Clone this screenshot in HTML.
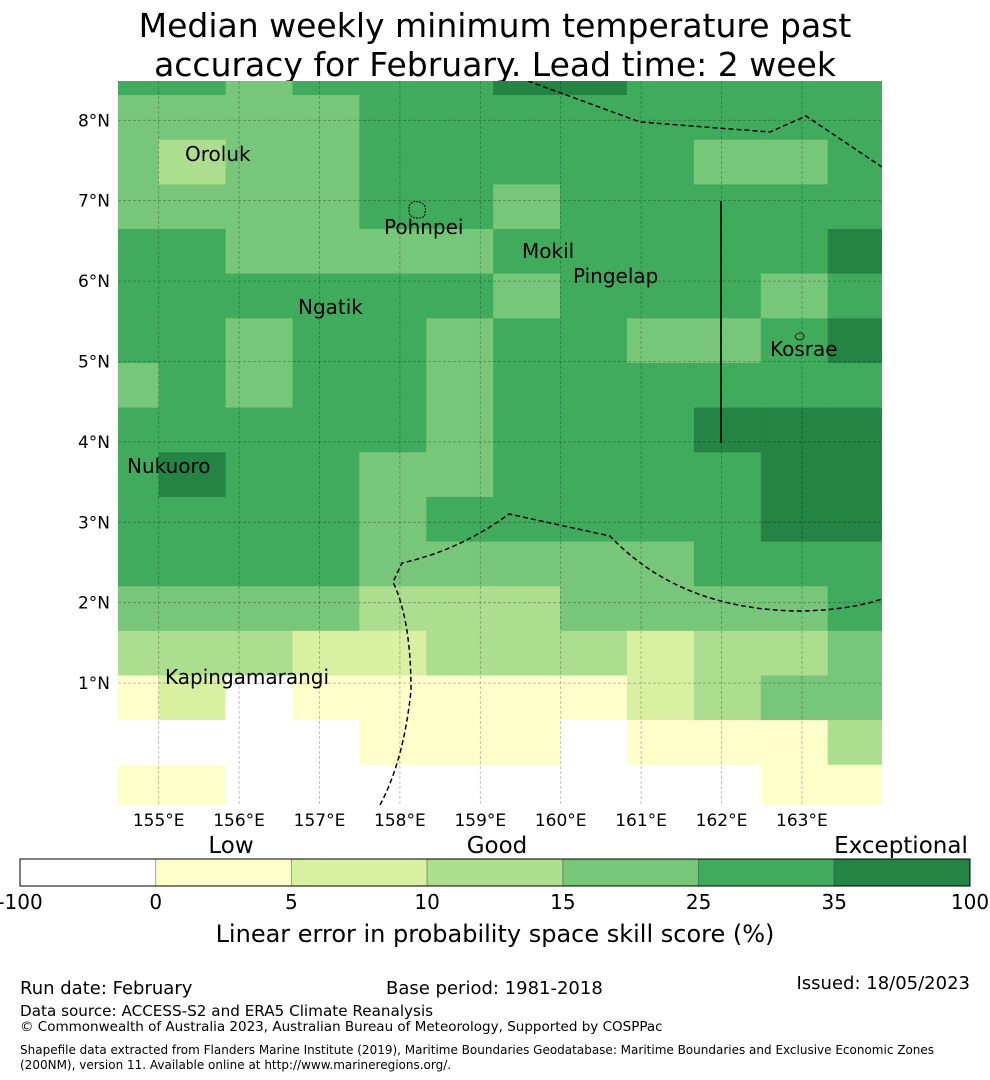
<!DOCTYPE html>
<html><head><meta charset="utf-8"><style>
html,body{margin:0;padding:0;background:#fff;}
svg{display:block;font-family:"DejaVu Sans","Liberation Sans",sans-serif;}
</style></head><body>
<svg id="chart" width="990" height="1080" viewBox="0 0 990 1080" xmlns="http://www.w3.org/2000/svg">
<g>
<text x="495" y="37" text-anchor="middle" font-size="33">Median weekly minimum temperature past</text>
<text x="495" y="76" text-anchor="middle" font-size="33">accuracy for February. Lead time: 2 week</text>
</g>
<defs><clipPath id="mapclip"><rect x="118" y="81" width="764" height="724"/></clipPath></defs>
<g id="cells" clip-path="url(#mapclip)"></g>
<g id="grid" clip-path="url(#mapclip)"></g>
<g id="overlay" clip-path="url(#mapclip)">
<path d="M528,81 L640,122 L770,132 L806,116 L882,167" fill="none" stroke="#000" stroke-width="1.5" stroke-dasharray="5,3"/>
<path d="M380,805 Q404,760 411,690 Q411,620 393,582 L402,563 Q460,550 509,514 L610,536 Q680,610 800,611 Q850,610 882,599" fill="none" stroke="#000" stroke-width="1.5" stroke-dasharray="5,3"/>
<line x1="721" y1="201" x2="721" y2="443" stroke="#000" stroke-width="1.6"/>
<path d="M409,206 Q412,200 419,202 Q427,204 425,212 Q426,218 418,218 Q410,218 409,212 Z" fill="none" stroke="#000" stroke-width="1" stroke-dasharray="2,1"/>
<path d="M795,336 Q799,331 803,334 Q806,338 801,340 Q796,340 795,336 Z" fill="none" stroke="#000" stroke-width="0.8"/>
</g>
<g font-size="20">
<text x="185" y="161">Oroluk</text>
<text x="384" y="234">Pohnpei</text>
<text x="522" y="258">Mokil</text>
<text x="573" y="283">Pingelap</text>
<text x="298" y="314">Ngatik</text>
<text x="770" y="356">Kosrae</text>
<text x="127" y="473">Nukuoro</text>
<text x="165" y="684">Kapingamarangi</text>
</g>
<g id="axes" font-size="17"></g>
<g id="cbar"></g>
<g font-size="18">
<text x="20" y="994">Run date: February</text>
<text x="386" y="994">Base period: 1981-2018</text>
<text x="970" y="989" text-anchor="end">Issued: 18/05/2023</text>
<text x="20" y="1016" font-size="15.2">Data source: ACCESS-S2 and ERA5 Climate Reanalysis</text>
<text x="20" y="1031" font-size="13.5">© Commonwealth of Australia 2023, Australian Bureau of Meteorology, Supported by COSPPac</text>
<text x="20" y="1054" font-size="12">Shapefile data extracted from Flanders Marine Institute (2019), Maritime Boundaries Geodatabase: Maritime Boundaries and Exclusive Economic Zones</text>
<text x="20" y="1069" font-size="12">(200NM), version 11. Available online at http://www.marineregions.org/.</text>
</g>
</svg>
<script>
const colorLevels = ["#ffffff","#ffffcc","#d9f0a3","#addd8e","#78c679","#41ab5d","#238443"];
const boundLabels = ["-100","0","5","10","15","25","35","100"];
const categoryLabels = ["Low","Good","Exceptional"];
const lonTicks = [155,156,157,158,159,160,161,162,163];
const latTicks = [1,2,3,4,5,6,7,8];
const row0 = [5,5,4,5,5,5,6,6,5,5,5,5];
const row1 = [4,4,4,4,5,5,5,5,5,5,5,5];
const row2 = [4,3,4,4,5,5,5,5,5,4,4,5];
const row3 = [4,4,4,4,5,5,4,5,5,5,5,5];
const row4 = [5,5,4,4,4,4,5,5,5,5,5,6];
const row5 = [5,5,5,5,5,5,4,5,5,5,4,5];
const row6 = [5,5,4,5,5,4,5,5,4,4,5,6];
const row7 = [4,5,4,5,5,4,5,5,5,5,5,5];
const row8 = [5,5,5,5,5,4,5,5,5,6,6,6];
const row9 = [5,6,5,5,4,4,5,5,5,5,6,6];
const row10 = [5,5,5,5,4,5,5,5,5,5,6,6];
const row11 = [5,5,5,5,4,4,4,4,4,5,5,5];
const row12 = [4,4,4,4,3,3,3,4,4,4,4,5];
const row13 = [3,3,3,2,2,3,3,3,2,3,3,4];
const row14 = [1,2,0,1,1,1,1,1,2,3,4,4];
const row15 = [0,0,0,0,1,1,1,0,1,1,1,3];
const row16 = [1,1,0,0,0,0,0,0,0,0,1,1];
const gridRows = [row0,row1,row2,row3,row4,row5,row6,row7,row8,row9,row10,row11,row12,row13,row14,row15,row16];

const NS="http://www.w3.org/2000/svg";
function mk(t,a,p){const e=document.createElementNS(NS,t);for(const k in a)e.setAttribute(k,a[k]);p.appendChild(e);return e;}
const pxPerDeg=80.4;
function xLon(l){return 158.7+(l-155)*pxPerDeg;}
function yLat(l){return 120.3+(8-l)*pxPerDeg;}
const cellW=66.9, cellH=44.65;
function xCol(c){return 91.8+c*cellW;}
function yRow(r){return 50.4+r*cellH;}

const cells=document.getElementById('cells');
gridRows.forEach((row,r)=>row.forEach((v,c)=>{
  const e=mk('rect',{x:xCol(c),y:yRow(r),width:cellW+0.5,height:cellH+0.5,fill:colorLevels[v]},cells);
  
  
}));

const grid=document.getElementById('grid');
lonTicks.forEach(l=>{const e=mk('line',{x1:xLon(l),x2:xLon(l),y1:81,y2:805,stroke:'rgba(0,0,0,0.3)','stroke-width':0.8,'stroke-dasharray':'3,2'},grid);
  
  });
latTicks.forEach(l=>{const e=mk('line',{x1:118,x2:882,y1:yLat(l),y2:yLat(l),stroke:'rgba(0,0,0,0.3)','stroke-width':0.8,'stroke-dasharray':'3,2'},grid);
  
  });

const axes=document.getElementById('axes');
lonTicks.forEach(l=>{const e=mk('text',{x:xLon(l),y:826,'text-anchor':'middle'},axes);e.textContent=l+'°E';
  
  });
latTicks.forEach(l=>{const e=mk('text',{x:110,y:yLat(l)+6,'text-anchor':'end'},axes);e.textContent=l+'°N';
  
  });

const cb=document.getElementById('cbar');
const cbX=20,cbW=950,cbY=859,cbH=27,segW=cbW/colorLevels.length;
colorLevels.forEach((c,i)=>{const e=mk('rect',{x:cbX+i*segW,y:cbY,width:segW,height:cbH,fill:c,stroke:'rgba(0,0,0,0.25)','stroke-width':1},cb);
  
  });
mk('rect',{x:cbX,y:cbY,width:cbW,height:cbH,fill:'none',stroke:'#000','stroke-width':1},cb);
boundLabels.forEach((b,i)=>{const e=mk('text',{x:cbX+i*segW,y:909,'text-anchor':'middle','font-size':20},cb);e.textContent=b;
  
  });
const catX=[231,497,901];
categoryLabels.forEach((t,i)=>{const e=mk('text',{x:catX[i],y:853,'text-anchor':'middle','font-size':23},cb);e.textContent=t;
  
  });
const cap=mk('text',{x:495,y:942,'text-anchor':'middle','font-size':24},cb);cap.textContent='Linear error in probability space skill score (%)';


</script>
</body></html>
